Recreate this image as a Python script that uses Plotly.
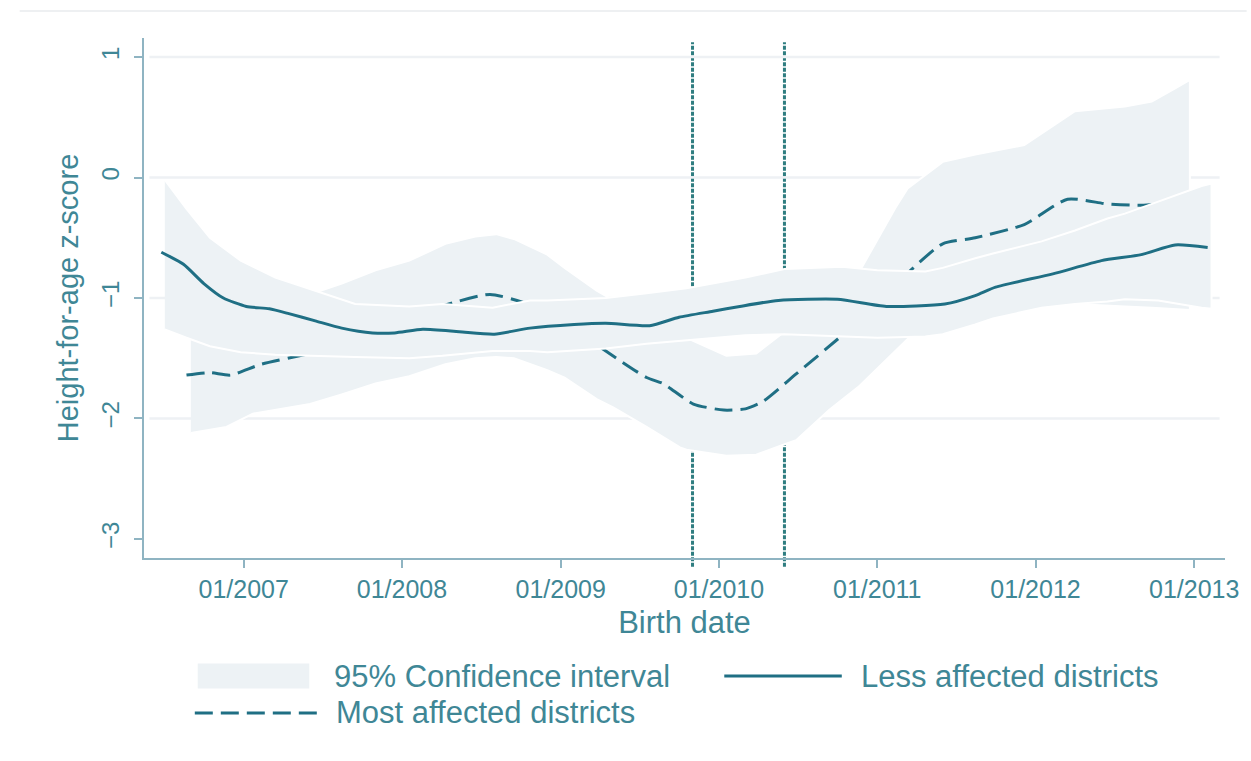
import plotly.graph_objects as go

# ---------------- data ----------------
less_x = ["2006-06-25", "2006-08-15", "2006-10-01", "2006-11-15", "2007-01-07", "2007-03-01",
          "2007-04-15", "2007-06-15", "2007-08-15", "2007-10-25", "2007-12-15", "2008-02-18",
          "2008-05-12", "2008-08-01", "2008-10-22", "2009-02-01", "2009-04-15", "2009-07-25",
          "2009-10-01", "2009-12-18", "2010-02-18", "2010-05-18", "2010-10-01", "2011-01-22",
          "2011-06-06", "2011-08-15", "2011-10-01", "2012-02-10", "2012-06-01", "2012-09-01",
          "2012-11-18", "2013-02-01"]
less_y = [-0.62, -0.72, -0.88, -1.00, -1.07, -1.09, -1.13, -1.19, -1.25, -1.29, -1.29, -1.26,
          -1.28, -1.30, -1.25, -1.22, -1.21, -1.23, -1.16, -1.11, -1.07, -1.02, -1.01, -1.07,
          -1.05, -0.98, -0.91, -0.80, -0.69, -0.64, -0.56, -0.58]

less_ci_x = ["2006-07-03", "2006-08-22", "2006-10-15", "2006-12-25", "2007-03-15", "2007-06-15",
             "2007-09-15", "2008-01-18", "2008-04-03", "2008-07-28", "2008-10-22", "2008-12-01",
             "2009-04-15", "2009-07-18", "2009-10-18", "2010-03-03", "2010-06-01", "2010-10-12",
             "2011-01-01", "2011-04-22", "2011-06-01", "2011-08-15", "2011-09-25", "2012-01-15",
             "2012-04-01", "2012-06-15", "2012-07-25", "2012-10-10", "2012-11-18", "2013-01-18",
             "2013-02-10"]
less_ci_upper = [-0.02, -0.26, -0.50, -0.69, -0.83, -0.94, -1.05, -1.07, -1.05, -1.08, -1.02,
                 -1.02, -1.00, -0.96, -0.92, -0.83, -0.76, -0.74, -0.77, -0.78, -0.75, -0.67,
                 -0.63, -0.53, -0.44, -0.34, -0.30, -0.20, -0.15, -0.07, -0.05]
less_ci_lower = [-1.26, -1.33, -1.40, -1.45, -1.47, -1.48, -1.49, -1.50, -1.48, -1.44, -1.44,
                 -1.45, -1.42, -1.38, -1.35, -1.31, -1.30, -1.32, -1.33, -1.32, -1.30, -1.22,
                 -1.17, -1.08, -1.05, -1.03, -1.01, -1.02, -1.04, -1.08, -1.09]

most_x = ["2006-08-22", "2006-10-15", "2006-12-01", "2007-02-10", "2007-06-03", "2007-08-28",
          "2007-11-28", "2008-02-07", "2008-04-18", "2008-07-22", "2008-10-10", "2008-12-12",
          "2009-02-10", "2009-04-15", "2009-07-18", "2009-08-25", "2009-11-03", "2010-01-12",
          "2010-03-03", "2010-04-12", "2010-06-28", "2010-10-12", "2010-12-28", "2011-03-22",
          "2011-06-01", "2011-08-15", "2011-12-06", "2012-03-15", "2012-06-15", "2012-09-01",
          "2012-12-22"]
most_y = [-1.64, -1.62, -1.64, -1.55, -1.46, -1.37, -1.26, -1.15, -1.05, -0.97, -1.04, -1.13,
          -1.28, -1.44, -1.66, -1.71, -1.88, -1.93, -1.92, -1.86, -1.63, -1.31, -1.06, -0.76,
          -0.55, -0.50, -0.39, -0.18, -0.22, -0.23, -0.20]

most_ci_x = ["2006-09-01", "2006-11-22", "2007-01-22", "2007-06-03", "2007-08-15", "2007-11-01",
             "2008-01-18", "2008-04-10", "2008-06-18", "2008-08-05", "2008-09-15", "2008-12-01",
             "2009-01-10", "2009-03-25", "2009-05-03", "2009-07-18", "2009-10-03", "2009-10-18",
             "2010-01-18", "2010-03-28", "2010-05-28", "2010-06-28", "2010-09-12", "2010-11-18",
             "2011-02-12", "2011-03-12", "2011-06-01", "2011-08-15", "2011-12-06", "2012-02-22",
             "2012-04-01", "2012-07-25", "2012-09-25", "2012-11-18", "2012-12-22"]
most_ci_upper = [-1.10, -1.05, -1.02, -0.97, -0.88, -0.77, -0.69, -0.55, -0.49, -0.47, -0.51,
                 -0.64, -0.75, -0.94, -1.02, -1.15, -1.30, -1.33, -1.48, -1.46, -1.29, -1.18,
                 -0.95, -0.80, -0.25, -0.09, 0.13, 0.19, 0.27, 0.46, 0.55, 0.59, 0.63, 0.74, 0.81]
most_ci_lower = [-2.12, -2.07, -1.96, -1.88, -1.80, -1.71, -1.65, -1.55, -1.50, -1.49, -1.50,
                 -1.60, -1.66, -1.84, -1.91, -2.07, -2.24, -2.26, -2.31, -2.30, -2.22, -2.18,
                 -1.93, -1.74, -1.44, -1.34, -1.20, -1.14, -1.08, -1.06, -1.05, -1.07, -1.08,
                 -1.09, -1.10]

event_dates = ["2009-11-01", "2010-06-01"]

x_ticks = ["2007-01-01", "2008-01-01", "2009-01-01", "2010-01-01", "2011-01-01",
           "2012-01-01", "2013-01-01"]
x_tick_labels = ["01/2007", "01/2008", "01/2009", "01/2010", "01/2011", "01/2012", "01/2013"]
y_ticks = [-3, -2, -1, 0, 1]
y_grid = [-2, -1, 0, 1]

legend_labels = ["95% Confidence interval", "Less affected districts", "Most affected districts"]

# ---------------- style ----------------
LINE = "#1f6f84"
BAND = "#edf2f5"
VLINE = "#2f7d80"
AXIS = "#8fb4c2"
TXT = "#3f8796"
GRID = "#eef1f4"
FONT = "Liberation Sans, Arial, sans-serif"
LEG_SIZE = 31

fig = go.Figure()

# most affected CI band
fig.add_trace(go.Scatter(
    x=most_ci_x + most_ci_x[::-1], y=most_ci_upper + most_ci_lower[::-1],
    fill="toself", fillcolor=BAND, mode="lines",
    line=dict(color="white", width=2),
    name=legend_labels[0], hoverinfo="skip"))
# most affected line
fig.add_trace(go.Scatter(
    x=most_x, y=most_y, mode="lines",
    line=dict(color=LINE, width=3, dash="18px,8px", shape="spline", smoothing=0.6),
    name=legend_labels[2]))
# less affected CI band
fig.add_trace(go.Scatter(
    x=less_ci_x + less_ci_x[::-1], y=less_ci_upper + less_ci_lower[::-1],
    fill="toself", fillcolor=BAND, mode="lines",
    line=dict(color="white", width=2),
    name=legend_labels[0], hoverinfo="skip"))
# less affected line
fig.add_trace(go.Scatter(
    x=less_x, y=less_y, mode="lines",
    line=dict(color=LINE, width=3, shape="spline", smoothing=0.6),
    name=legend_labels[1]))

# event lines
for d in event_dates:
    fig.add_shape(type="line", xref="x", yref="paper", x0=d, x1=d, y0=-0.017, y1=0.992,
                  line=dict(color=VLINE, width=3, dash="4px,1.5px"), layer="below")
# grid lines
for g in y_grid:
    fig.add_shape(type="line", xref="paper", yref="y", x0=0.005, x1=0.995, y0=g, y1=g,
                  line=dict(color=GRID, width=2.5), layer="below")
# faint outer frame line at top
fig.add_shape(type="line", xref="paper", yref="paper", x0=-0.115, x1=1.02, y0=1.052, y1=1.052,
              line=dict(color="#e8ebee", width=1.5), layer="below")

# ---------------- legend (drawn below the plot, Stata-style) ----------------
row1, row2 = -0.227, -0.298
fig.add_shape(type="rect", xref="paper", yref="paper", x0=0.0497, x1=0.1529,
              y0=row1 - 0.024, y1=row1 + 0.024, fillcolor=BAND, line=dict(width=0))
fig.add_shape(type="line", xref="paper", yref="paper", x0=0.5368, x1=0.6455,
              y0=row1, y1=row1, line=dict(color=LINE, width=3))
fig.add_shape(type="line", xref="paper", yref="paper", x0=0.047, x1=0.162,
              y0=row2, y1=row2, line=dict(color=LINE, width=3, dash="18px,8px"))
for txt, lx, ly in [(legend_labels[0], 0.174, row1), (legend_labels[1], 0.6611, row1),
                    (legend_labels[2], 0.1759, row2)]:
    fig.add_annotation(text=txt, xref="paper", yref="paper", x=lx, y=ly,
                       xanchor="left", yanchor="middle", showarrow=False,
                       font=dict(size=LEG_SIZE, color=TXT, family=FONT))

fig.update_layout(
    width=1251, height=761,
    margin=dict(l=144, r=21, t=38, b=203),
    paper_bgcolor="white", plot_bgcolor="white",
    font=dict(family=FONT, color=TXT),
    showlegend=False,
)
fig.update_xaxes(
    type="date", range=["2006-05-16", "2013-03-13"],
    tickvals=x_ticks, ticktext=x_tick_labels,
    showgrid=False, zeroline=False,
    showline=True, linecolor=AXIS, linewidth=1.5,
    ticks="outside", ticklen=8, tickcolor=AXIS, tickwidth=1.5,
    tickfont=dict(size=25, color=TXT),
    title=dict(text="Birth date", font=dict(size=31, color=TXT), standoff=10),
)
fig.update_yaxes(
    range=[-3.158, 1.158], tickvals=y_ticks,
    showgrid=False, zeroline=False,
    showline=True, linecolor=AXIS, linewidth=1.5,
    ticks="outside", ticklen=8, tickcolor=AXIS, tickwidth=1.5,
    tickangle=-90, ticklabelstandoff=6,
    tickfont=dict(size=24, color=TXT),
    title=dict(text="Height-for-age z-score", font=dict(size=29, color=TXT), standoff=10),
)

fig.write_html("out.html")
